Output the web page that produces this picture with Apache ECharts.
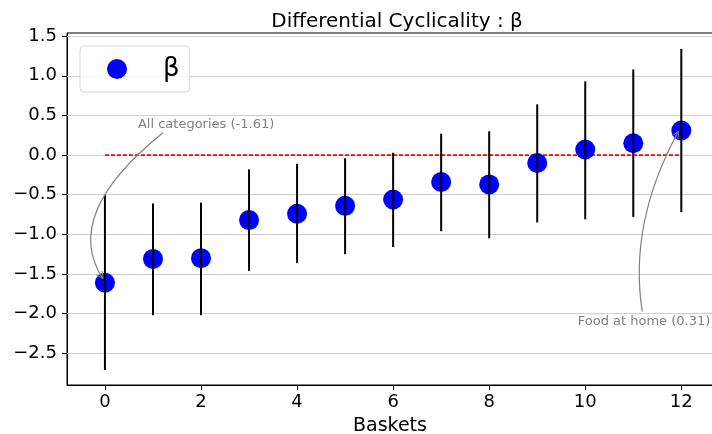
<!DOCTYPE html>
<html lang="en">
<head>
    <meta charset="UTF-8">
    <title>Differential Cyclicality</title>
    <style>
        html, body { margin: 0; padding: 0; background: #fff; }
    </style>
</head>
<body>
<div id="main" style="width: 712px;height:434px;"></div>
<script src="https://cdn.jsdelivr.net/npm/echarts@6/dist/echarts.min.js"></script>
<script>
    // data
    var baskets = [0, 1, 2, 3, 4, 5, 6, 7, 8, 9, 10, 11, 12];
    var beta = [-1.61, -1.31, -1.30, -0.82, -0.74, -0.64, -0.56, -0.34, -0.37, -0.10, 0.07, 0.15, 0.31];
    var errLow = [-2.71, -2.02, -2.02, -1.46, -1.36, -1.25, -1.16, -0.96, -1.05, -0.85, -0.81, -0.78, -0.72];
    var errHigh = [-0.50, -0.61, -0.60, -0.18, -0.11, -0.04, 0.03, 0.27, 0.30, 0.64, 0.93, 1.08, 1.34];
    var xTicks = [0, 2, 4, 6, 8, 10, 12];
    var yTicks = [-2.5, -2.0, -1.5, -1.0, -0.5, 0.0, 0.5, 1.0, 1.5];
    var notes = [
        {idx: 0, text: 'All categories (-1.61)'},
        {idx: 12, text: 'Food at home (0.31)'}
    ];

    var font = '"DejaVu Sans", sans-serif';
    var points = [], bars = [];
    for (var i = 0; i < baskets.length; i++) {
        points.push([baskets[i], beta[i]]);
        bars.push([baskets[i], errLow[i], errHigh[i]]);
    }
    function fmt(v) {
        return v.toFixed(1).replace('-', '\u2212');
    }

    var myChart = echarts.init(document.getElementById('main'));
    var option = {
        backgroundColor: '#fff',
        animation: false,
        textStyle: {fontFamily: font},
        title: {
            text: 'Differential Cyclicality : \u03b2',
            left: 392, top: 7, textAlign: 'center',
            textStyle: {fontFamily: font, fontSize: 20, fontWeight: 'normal', color: '#000'}
        },
        grid: {
            left: 67, top: 33, right: -1, bottom: 49,
            outerBoundsMode: 'none',
            show: true, borderColor: '#000', borderWidth: 1
        },
        legend: {
            left: 80, top: 46,
            data: [{name: '\u03b2'}],
            icon: 'circle',
            itemWidth: 20, itemHeight: 20,
            padding: [10, 10, 10, 27],
            borderColor: '#d6d6d6', borderWidth: 1, borderRadius: 4,
            backgroundColor: 'rgba(255,255,255,0.8)',
            textStyle: {fontFamily: font, fontSize: 26, color: '#000', padding: [0, 0, 0, 31]}
        },
        xAxis: {
            type: 'value', min: -0.79, max: 12.66,
            name: 'Baskets', nameLocation: 'middle', nameGap: 32,
            nameTextStyle: {fontFamily: font, fontSize: 19, color: '#000'},
            axisLine: {onZero: false, lineStyle: {color: '#000'}},
            axisTick: {show: true, length: 5, customValues: xTicks, lineStyle: {color: '#000'}},
            axisLabel: {customValues: xTicks, fontFamily: font, fontSize: 18, color: '#000', margin: 8},
            splitLine: {show: false}
        },
        yAxis: {
            type: 'value', min: -2.90, max: 1.54,
            axisLine: {show: true, onZero: false, lineStyle: {color: '#000'}},
            axisTick: {show: true, length: 5, customValues: yTicks, lineStyle: {color: '#000'}},
            axisLabel: {customValues: yTicks, fontFamily: font, fontSize: 18, color: '#000', margin: 10,
                formatter: function (v) { return fmt(v); }},
            splitLine: {show: false}
        },
        series: [
            {
                // gridlines at the y ticks
                type: 'line', data: [], silent: true, z: 1,
                markLine: {
                    silent: true, symbol: 'none', animation: false, z: 1,
                    label: {show: false},
                    lineStyle: {color: '#cfcfcf', type: 'solid', width: 1},
                    data: yTicks.map(function (v) { return {yAxis: v}; })
                }
            },
            {
                type: 'line',
                data: [[0, 0], [12, 0]],
                symbol: 'none', silent: true,
                color: '#ff0000',
                lineStyle: {color: '#ff0000', type: [4, 2], width: 1.6, opacity: 1},
                z: 3
            },
            {
                name: '\u03b2',
                type: 'scatter',
                data: points,
                symbolSize: 20,
                itemStyle: {color: '#0000ff', opacity: 1},
                z: 4
            },
            {
                type: 'custom',
                data: bars,
                silent: true,
                z: 5,
                renderItem: function (params, api) {
                    var a = api.coord([api.value(0), api.value(1)]);
                    var b = api.coord([api.value(0), api.value(2)]);
                    return {
                        type: 'line',
                        shape: {x1: a[0], y1: a[1], x2: b[0], y2: b[1]},
                        style: {stroke: '#000', lineWidth: 2}
                    };
                }
            }
        ]
    };
    myChart.setOption(option);

    // annotations with curved arrows, anchored on the data points
    function arrowHead(tip, from) {
        var dx = tip[0] - from[0], dy = tip[1] - from[1];
        var len = Math.sqrt(dx * dx + dy * dy);
        dx /= len; dy /= len;
        var s = 7, w = 3.5;
        return {
            type: 'polyline',
            shape: {points: [
                [tip[0] - dx * s - dy * w, tip[1] - dy * s + dx * w],
                tip,
                [tip[0] - dx * s + dy * w, tip[1] - dy * s - dx * w]
            ]},
            style: {stroke: '#808080', lineWidth: 1, fill: null},
            z: 10
        };
    }
    var g = [];
    var p0 = myChart.convertToPixel({gridIndex: 0}, points[notes[0].idx]);
    var s0 = [p0[0] + 58, p0[1] - 150], t0 = [p0[0] - 2, p0[1] - 4], c0 = [p0[0] - 44, p0[1] - 68];
    g.push({type: 'text', x: p0[0] + 33, y: p0[1] - 158, z: 10,
        style: {text: notes[0].text, fill: '#808080', font: '13px "DejaVu Sans"', textVerticalAlign: 'middle'}});
    g.push({type: 'bezierCurve', z: 10,
        shape: {x1: s0[0], y1: s0[1], x2: t0[0], y2: t0[1], cpx1: c0[0], cpy1: c0[1]},
        style: {stroke: '#808080', lineWidth: 1.2, fill: null}});
    g.push(arrowHead(t0, c0));

    var p1 = myChart.convertToPixel({gridIndex: 0}, points[notes[1].idx]);
    var s1 = [p1[0] - 39, p1[1] + 181], t1 = [p1[0] - 3, p1[1] + 1], c1 = [p1[0] - 53, p1[1] + 93];
    g.push({type: 'text', x: p1[0] + 29, y: p1[1] + 191, z: 10,
        style: {text: notes[1].text, fill: '#808080', font: '13px "DejaVu Sans"', textAlign: 'right', textVerticalAlign: 'middle'}});
    g.push({type: 'bezierCurve', z: 10,
        shape: {x1: s1[0], y1: s1[1], x2: t1[0], y2: t1[1], cpx1: c1[0], cpy1: c1[1]},
        style: {stroke: '#808080', lineWidth: 1.2, fill: null}});
    g.push(arrowHead(t1, c1));
    myChart.setOption({graphic: g});
</script>
</body>
</html>
